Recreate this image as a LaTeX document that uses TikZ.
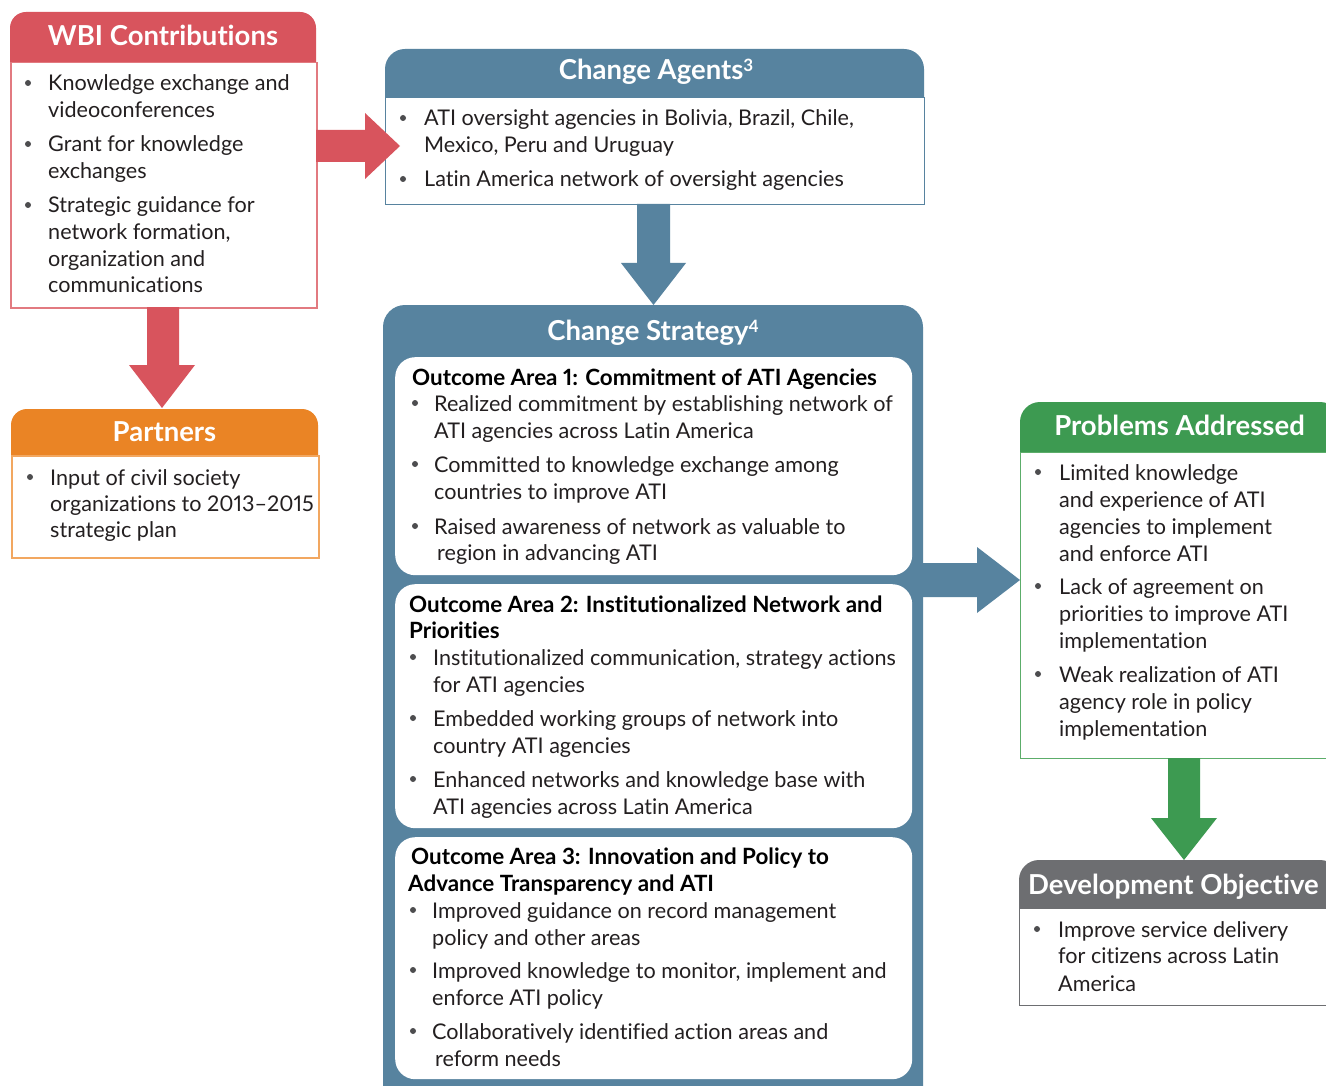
\documentclass[tikz,border=0pt]{standalone}
\usepackage{fontspec}
\setmainfont{Lato}[Numbers=Proportional, Ligatures=NoCommon]
\definecolor{cred}{HTML}{D8545D}
\definecolor{credl}{HTML}{E27A80}
\definecolor{corange}{HTML}{EA8425}
\definecolor{corangel}{HTML}{F2A760}
\definecolor{cblue}{HTML}{57839F}
\definecolor{cgreen}{HTML}{3D9A51}
\definecolor{cgreenl}{HTML}{5CAD6A}
\definecolor{cgray}{HTML}{6D6E71}
\definecolor{textc}{HTML}{231F20}
\definecolor{bulc}{HTML}{4D4D4F}
\newcounter{lc}
\tikzset{
  txt/.style={anchor=base west, inner sep=0pt, font=\fontsize{21.6}{27}\selectfont, text=textc},
  ttl/.style={anchor=base west, inner sep=0pt, font=\fontsize{22.4}{27}\selectfont\bfseries, text=black},
  hdr/.style={anchor=base, inner sep=0pt, font=\fontsize{27.5}{30}\selectfont\bfseries, text=white},
  bul/.style={circle, fill=bulc, inner sep=0pt, minimum size=6pt},
  bodybox/.style={anchor=north west, fill=white, line width=1.5pt, inner sep=0pt},
  inbox/.style={anchor=north west, fill=white, rounded corners=20pt, inner sep=0pt},
}
\newcommand\sups[1]{\raisebox{8pt}{\fontsize{17}{17}\selectfont\bfseries #1}}
\newcommand\tline[3]{\stepcounter{lc}\node[txt] (t\arabic{lc}) at (#1,#2) {#3};}
\newcommand\tbul[4]{\stepcounter{lc}\node[bul] (b\arabic{lc}) at (#1,#3-8) {};\stepcounter{lc}\node[txt] (t\arabic{lc}) at (#2,#3) {#4};}
\newcommand\ttitle[3]{\stepcounter{lc}\node[ttl] (h\arabic{lc}) at (#1,#2) {#3};}
\begin{document}
\begin{tikzpicture}[x=1pt,y=-1pt]
\clip (0,0) rectangle (1326,1086);
\fill[white] (0,0) rectangle (1326,1086);

% ---------- WBI Contributions ----------
\fill[cred] (10,62) [rounded corners=16pt] -- (10,12) -- (316,12) [sharp corners] -- (316,62) -- cycle;
\node[bodybox, draw=credl, minimum width=306pt, minimum height=245pt] (wbi) at (10,62) {};
\node[hdr] (wbih) at (163,46) {WBI Contributions};
\tbul{28}{48}{91}{Knowledge exchange and}
\tline{48}{118}{videoconferences}
\tbul{28}{48}{152}{Grant for knowledge}
\tline{48}{179}{exchanges}
\tbul{28}{48}{213}{Strategic guidance for}
\tline{48}{240}{network formation,}
\tline{48}{267}{organization and}
\tline{48}{293}{communications}

% ---------- Partners ----------
\fill[corange] (11,455) [rounded corners=16pt] -- (11,409) -- (318,409) [sharp corners] -- (318,455) -- cycle;
\node[bodybox, draw=corangel, minimum width=307pt, minimum height=102pt] (par) at (11,455) {};
\node[hdr] (parh) at (164.5,441) {Partners};
\tbul{30}{50}{485}{Input of civil society}
\tline{50}{511}{organizations to 2013--2015}
\tline{50}{537}{strategic plan}

% ---------- Change Agents ----------
\fill[cblue] (385,97) [rounded corners=20pt] -- (385,49) -- (924,49) [sharp corners] -- (924,97) -- cycle;
\node[bodybox, draw=cblue, line width=1.2pt, minimum width=539pt, minimum height=107pt] (ca) at (385,97) {};
\node[hdr] (cah) at (656,80) {Change Agents\sups{3}};
\tbul{403}{424}{126}{ATI oversight agencies in Bolivia, Brazil, Chile,}
\tline{424}{153}{Mexico, Peru and Uruguay}
\tbul{403}{424}{187}{Latin America network of oversight agencies}

% ---------- Change Strategy ----------
\fill[cblue] (383,1100) [rounded corners=22pt] -- (383,305) -- (923,305) [sharp corners] -- (923,1100) -- cycle;
\node[hdr] (csh) at (653,340) {Change Strategy\sups{4}};
\node[inbox, minimum width=517pt, minimum height=218pt] (oa1) at (395,357) {};
\node[inbox, minimum width=517pt, minimum height=244pt] (oa2) at (395,584) {};
\node[inbox, minimum width=517pt, minimum height=242pt] (oa3) at (395,837) {};

\ttitle{412}{385}{Outcome Area 1: Commitment of ATI Agencies}
\tbul{415}{434}{411}{Realized commitment by establishing network of}
\tline{434}{438}{ATI agencies across Latin America}
\tbul{415}{434}{472}{Committed to knowledge exchange among}
\tline{434}{499}{countries to improve ATI}
\tbul{415}{434}{534}{Raised awareness of network as valuable to}
\tline{437}{560}{region in advancing ATI}

\ttitle{409}{612}{Outcome Area 2: Institutionalized Network and}
\ttitle{409}{638}{Priorities}
\tbul{413}{433}{665}{Institutionalized communication, strategy actions}
\tline{433}{692}{for ATI agencies}
\tbul{413}{433}{726}{Embedded working groups of network into}
\tline{433}{753}{country ATI agencies}
\tbul{413}{433}{787}{Enhanced networks and knowledge base with}
\tline{433}{814}{ATI agencies across Latin America}

\ttitle{411}{864}{Outcome Area 3: Innovation and Policy to}
\ttitle{408}{891}{Advance Transparency and ATI}
\tbul{413}{432}{918}{Improved guidance on record management}
\tline{432}{945}{policy and other areas}
\tbul{413}{432}{978}{Improved knowledge to monitor, implement and}
\tline{432}{1005}{enforce ATI policy}
\tbul{413}{432}{1039}{Collaboratively identified action areas and}
\tline{435}{1066}{reform needs}

% ---------- Problems Addressed ----------
\fill[cgreen] (1020,452) [rounded corners=20pt] -- (1020,402) -- (1340,402) [sharp corners] -- (1340,452) -- cycle;
\node[bodybox, draw=cgreenl, line width=1.2pt, minimum width=320pt, minimum height=306pt] (pa) at (1020,452) {};
\node[hdr] (pah) at (1179.5,435) {Problems Addressed};
\tbul{1038}{1059}{480}{Limited knowledge}
\tline{1059}{507}{and experience of ATI}
\tline{1059}{534}{agencies to implement}
\tline{1059}{561}{and enforce ATI}
\tbul{1038}{1059}{594}{Lack of agreement on}
\tline{1059}{621}{priorities to improve ATI}
\tline{1059}{648}{implementation}
\tbul{1038}{1059}{682}{Weak realization of ATI}
\tline{1059}{709}{agency role in policy}
\tline{1059}{736}{implementation}

% ---------- Development Objective ----------
\fill[cgray] (1019,908) [rounded corners=20pt] -- (1019,860) -- (1340,860) [sharp corners] -- (1340,908) -- cycle;
\node[bodybox, draw=cgray, line width=1pt, minimum width=321pt, minimum height=97pt] (dob) at (1019,908) {};
\node[hdr, anchor=base west] (dobh) at (1028,894) {Development Objective};
\tbul{1037}{1058}{937}{Improve service delivery}
\tline{1058}{963}{for citizens across Latin}
\tline{1058}{991}{America}

% ---------- Block arrows ----------
\fill[cred] (316,130) -- (365,130) -- (365,113) -- (400,146) -- (365,179) -- (365,162) -- (316,162) -- cycle;
\fill[cred] (147,307) -- (147,365) -- (129,365) -- (162,408) -- (195,365) -- (179,365) -- (179,307) -- cycle;
\fill[cblue] (637,204) -- (637,263) -- (621,263) -- (653.5,305) -- (686,263) -- (670,263) -- (670,204) -- cycle;
\fill[cblue] (920,563) -- (977,563) -- (977,547) -- (1020,580) -- (977,613) -- (977,597) -- (920,597) -- cycle;
\fill[cgreen] (1168,758) -- (1168,818) -- (1151,818) -- (1184,860) -- (1217,818) -- (1200,818) -- (1200,758) -- cycle;
\end{tikzpicture}
\end{document}
